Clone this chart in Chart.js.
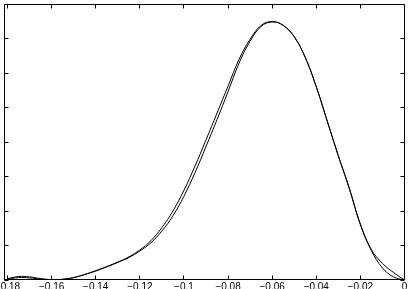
<!doctype html>
<html lang="en">
  <head>
    <meta charset="UTF-8">
    <title>Density</title>
    <style>
      body { margin: 0; background: #fff; }
      #wrap { width: 408px; height: 289px; }
    </style>
  </head>
  <body>
    <div id="wrap"><canvas id="myChart"></canvas></div>
    <script src="https://cdn.jsdelivr.net/npm/chart.js@4.4.1/dist/chart.umd.min.js"></script>
    <script>
    // Data-----
    const xs = [
      -0.180, -0.175, -0.170, -0.165, -0.160, -0.155, -0.150, -0.145, -0.140, -0.135,
      -0.130, -0.125, -0.120, -0.115, -0.110, -0.105, -0.100, -0.095, -0.090, -0.085,
      -0.080, -0.075, -0.070, -0.065, -0.060, -0.055, -0.050, -0.045, -0.040, -0.035,
      -0.030, -0.025, -0.020, -0.015, -0.010, -0.005, 0.000
    ];
    const densityA = [
      0.04, 0.10, 0.09, 0.04, 0.01, 0.02, 0.07, 0.16, 0.27, 0.39,
      0.52, 0.67, 0.87, 1.14, 1.52, 2.00, 2.60, 3.30, 4.06, 4.84,
      5.62, 6.40, 6.98, 7.38, 7.49, 7.38, 7.05, 6.45, 5.60, 4.60,
      3.60, 2.65, 1.62, 0.88, 0.48, 0.22, 0.00
    ];
    const densityB = [
      0.02, 0.07, 0.06, 0.03, 0.01, 0.02, 0.07, 0.16, 0.26, 0.38,
      0.51, 0.65, 0.84, 1.08, 1.42, 1.86, 2.43, 3.11, 3.87, 4.65,
      5.46, 6.29, 6.92, 7.35, 7.48, 7.38, 7.05, 6.45, 5.60, 4.60,
      3.60, 2.65, 1.60, 0.85, 0.35, 0.09, 0.00
    ];
    const xTicks = [-0.18, -0.16, -0.14, -0.12, -0.1, -0.08, -0.06, -0.04, -0.02, 0];
    const xTickLabels = ['\u22120.18', '\u22120.16', '\u22120.14', '\u22120.12', '\u22120.1',
                         '\u22120.08', '\u22120.06', '\u22120.04', '\u22120.02', '0'];
    const yTicks = [0, 1, 2, 3, 4, 5, 6, 7, 8];
    // Data-----

    // box with inward ticks on all four sides, x tick labels under it
    const boxPlugin = {
      id: 'box',
      afterDraw(chart) {
        const {ctx, chartArea: a, scales: {x, y}} = chart;
        const L = Math.floor(a.left) + 0.5, R = Math.floor(a.right) + 0.5;
        const T = Math.floor(a.top) + 0.5, B = Math.floor(a.bottom) - 0.5;
        const len = 4;
        ctx.save();
        ctx.strokeStyle = '#000';
        ctx.lineWidth = 1;
        ctx.beginPath();
        ctx.rect(L, T, R - L, B - T);
        xTicks.forEach(v => {
          const px = Math.floor(x.getPixelForValue(v)) + 0.5;
          ctx.moveTo(px, B); ctx.lineTo(px, B - len);
          ctx.moveTo(px, T); ctx.lineTo(px, T + len);
        });
        yTicks.forEach(v => {
          const py = Math.floor(y.getPixelForValue(v)) + 0.5;
          ctx.moveTo(L, py); ctx.lineTo(L + len, py);
          ctx.moveTo(R, py); ctx.lineTo(R - len, py);
        });
        ctx.stroke();

        ctx.fillStyle = '#000';
        ctx.font = '10px "Liberation Sans"';
        ctx.textAlign = 'center';
        ctx.textBaseline = 'alphabetic';
        xTicks.forEach((v, i) => {
          ctx.fillText(xTickLabels[i], x.getPixelForValue(v), a.bottom + 10);
        });
        ctx.restore();
      }
    };

    const line = (vals) => ({
      data: vals.map((v, i) => ({x: xs[i], y: v})),
      borderColor: '#000',
      borderWidth: 1,
      pointRadius: 0,
      fill: false,
      tension: 0.4
    });

    const config = {
      type: 'line',
      data: { datasets: [line(densityA), line(densityB)] },
      options: {
        responsive: true,
        maintainAspectRatio: false,
        animation: false,
        events: [],
        layout: { autoPadding: false, padding: { left: 4, top: 4, right: 3.5, bottom: 0 } },
        plugins: { legend: { display: false }, tooltip: { enabled: false } },
        scales: {
          x: {
            type: 'linear',
            min: -0.1816,
            max: 0,
            grid: { display: false },
            border: { display: false },
            ticks: { display: false },
            afterFit: s => { s.height = 9; }
          },
          y: {
            type: 'linear',
            min: 0,
            max: 8,
            display: false
          }
        }
      },
      plugins: [boxPlugin]
    };

    new Chart(document.getElementById('myChart'), config);
    </script>
  </body>
</html>
